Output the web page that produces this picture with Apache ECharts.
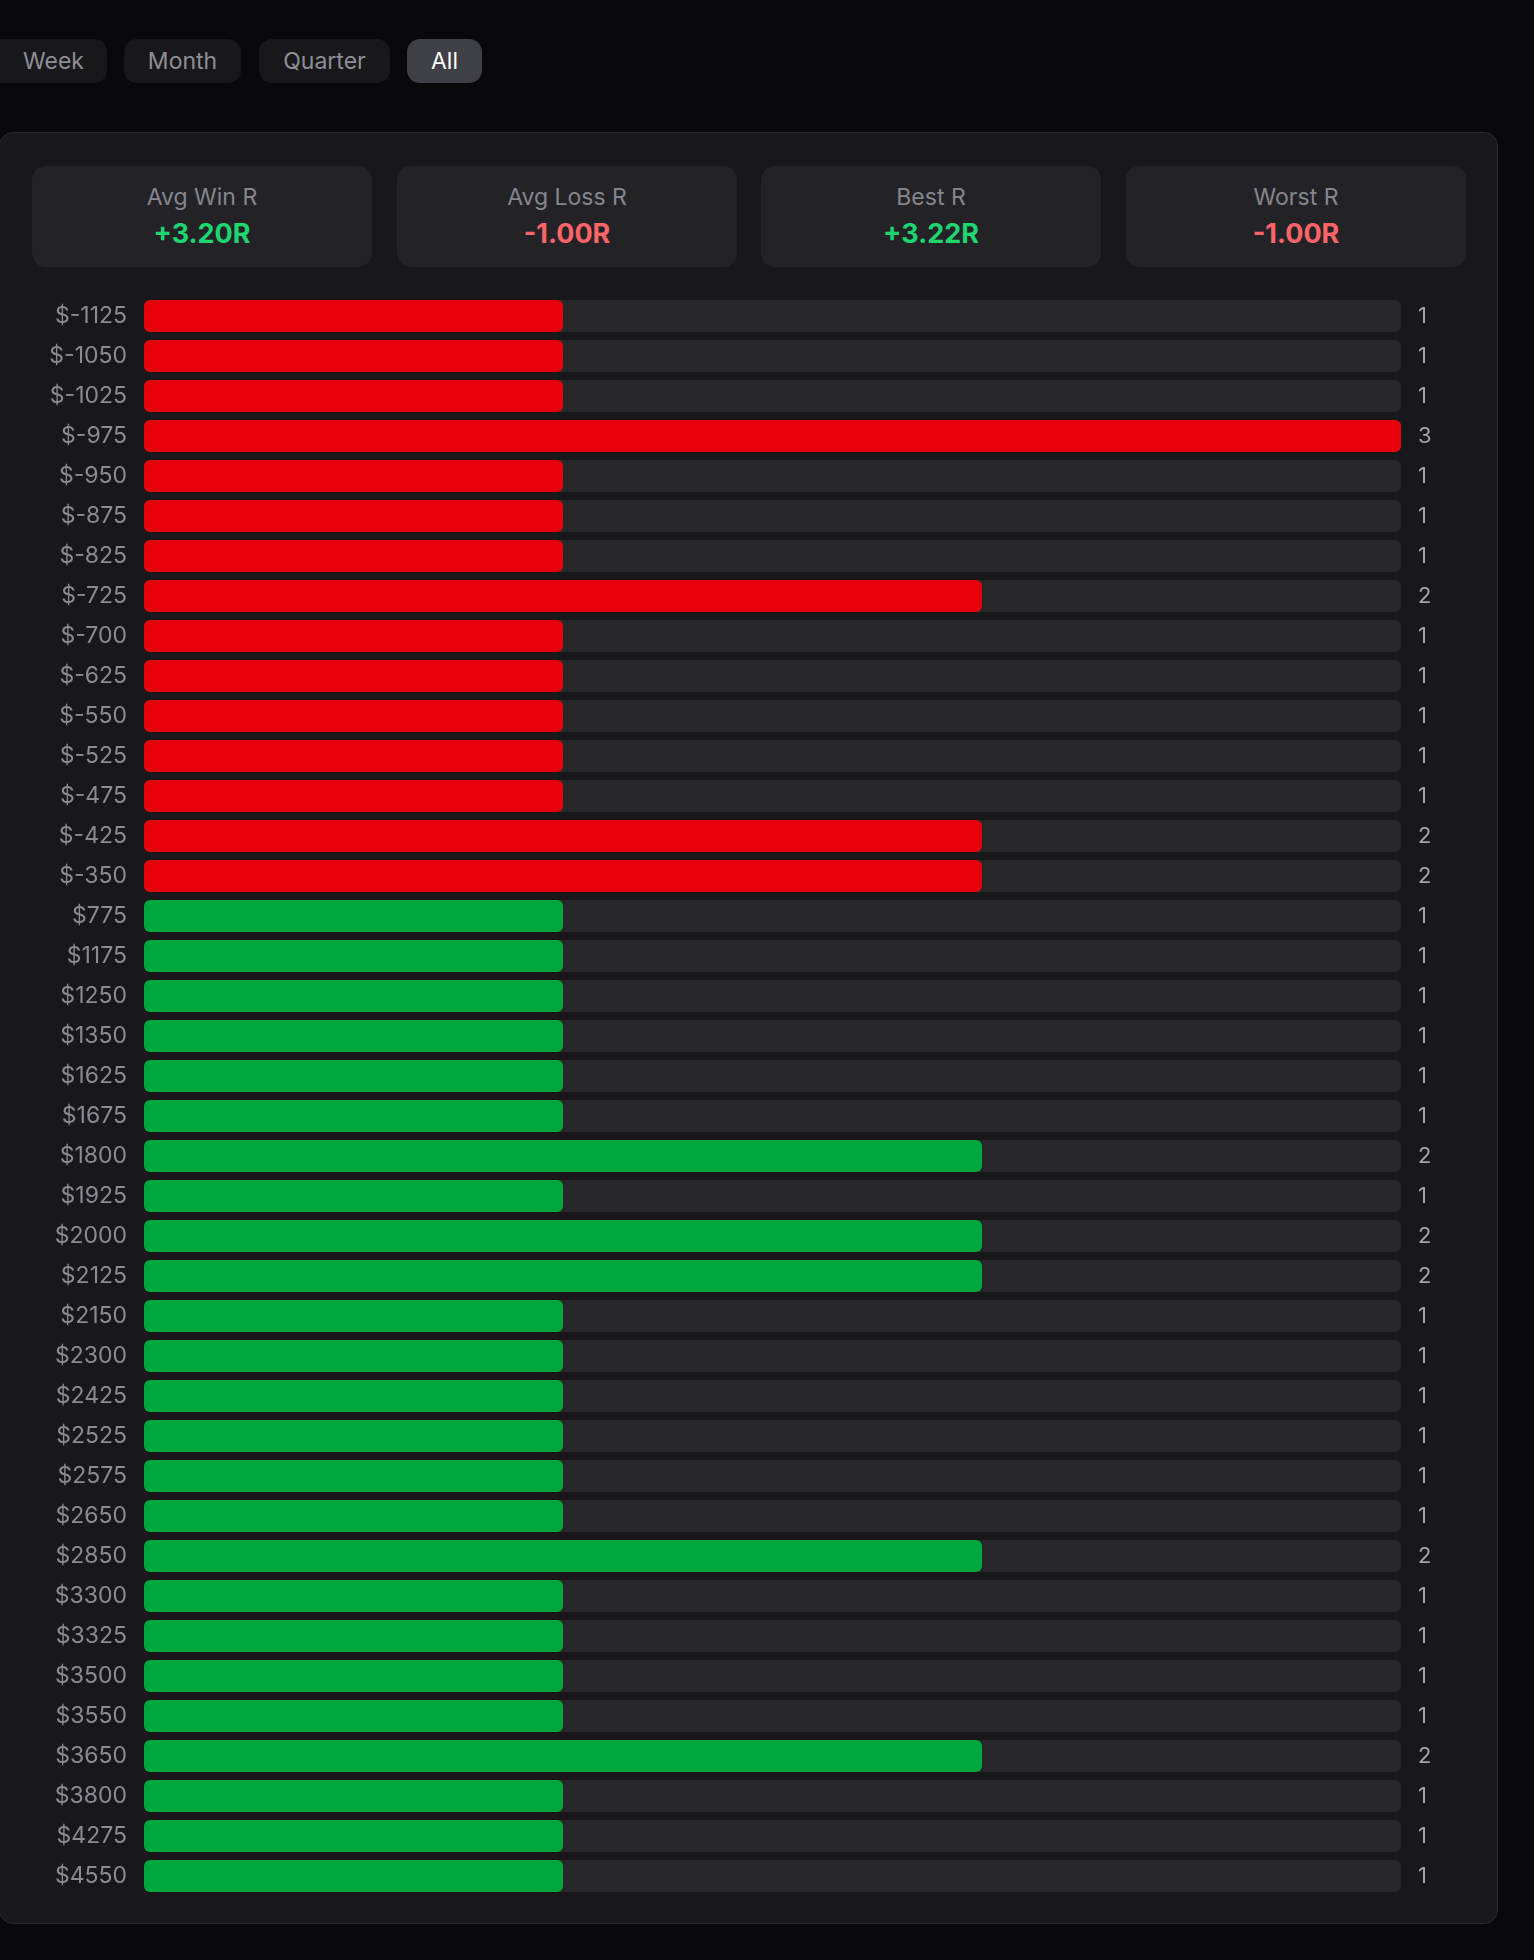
<!DOCTYPE html>
<html>
<head>
<meta charset="utf-8">
<script src="https://cdn.jsdelivr.net/npm/echarts@6/dist/echarts.min.js"></script>
<style>
  html, body { margin: 0; padding: 0; background: #09090b; }
  body { width: 1534px; height: 1960px; position: relative; overflow: hidden; font-family: Inter, "Noto Sans", sans-serif; }
  .btn { position: absolute; top: 39px; height: 44px; line-height: 44px; border-radius: 13px; background: #18181b;
         color: #8e8e96; font-size: 23px; text-align: center; }
  .btn.active { background: #3f3f46; color: #fafafa; }
  #panel { position: absolute; left: -1px; top: 132px; width: 1499px; height: 1792px; box-sizing: border-box;
           border: 1.5px solid #2a2a2f; border-radius: 14px; background: #18181b; }
  .card { position: absolute; top: 166px; height: 101px; width: 340px; border-radius: 14px; background: #232327; text-align: center; }
  .card .lbl { position: absolute; left: 0; right: 0; top: 17px; color: #85858d; font-size: 23px; }
  .card .val { position: absolute; left: 0; right: 0; top: 51px; font-size: 27px; font-weight: 700; }
  #chart { position: absolute; left: 0; top: 0; width: 1534px; height: 1960px; }
</style>
</head>
<body>
<div id="buttons"></div>
<div id="panel"></div>
<div id="cards"></div>
<div id="chart"></div>
<script>
// period tabs
var periods = ['Week', 'Month', 'Quarter', 'All'];
var activePeriod = 'All';

// summary cards
var statLabels = ['Avg Win R', 'Avg Loss R', 'Best R', 'Worst R'];
var statValues = ['+3.20R', '-1.00R', '+3.22R', '-1.00R'];

// P&L buckets and trade counts
var buckets = ['$-1125', '$-1050', '$-1025', '$-975', '$-950', '$-875', '$-825', '$-725', '$-700', '$-625',
    '$-550', '$-525', '$-475', '$-425', '$-350', '$775', '$1175', '$1250', '$1350', '$1625',
    '$1675', '$1800', '$1925', '$2000', '$2125', '$2150', '$2300', '$2425', '$2525', '$2575',
    '$2650', '$2850', '$3300', '$3325', '$3500', '$3550', '$3650', '$3800', '$4275', '$4550'];
var counts = [1, 1, 1, 3, 1, 1, 1, 2, 1, 1,
    1, 1, 1, 2, 2, 1, 1, 1, 1, 1,
    1, 2, 1, 2, 2, 1, 1, 1, 1, 1,
    1, 2, 1, 1, 1, 1, 2, 1, 1, 1];

var RED = '#e7000b';
var GREEN = '#00a63e';

// tabs
var btnPos = [[-12, 119], [124, 117], [259, 131], [407, 75]];
var btnHtml = '';
periods.forEach(function (p, i) {
    btnHtml += '<div class="btn' + (p === activePeriod ? ' active' : '') + '" style="left:' + btnPos[i][0] +
        'px;width:' + btnPos[i][1] + 'px;' + (i === 0 ? 'text-indent:12px;' : '') + '">' + p + '</div>';
});
document.getElementById('buttons').innerHTML = btnHtml;

// cards
var cardLeft = [32, 397, 761, 1126];
var cardHtml = '';
statLabels.forEach(function (l, i) {
    var c = statValues[i].charAt(0) === '-' ? '#ff6467' : '#1fd56f';
    cardHtml += '<div class="card" style="left:' + cardLeft[i] + 'px"><div class="lbl">' + l +
        '</div><div class="val" style="color:' + c + '">' + statValues[i] + '</div></div>';
});
document.getElementById('cards').innerHTML = cardHtml;

var chart = echarts.init(document.getElementById('chart'), null, { renderer: 'canvas' });

var barData = counts.map(function (v, i) {
    return {
        value: v,
        itemStyle: { color: buckets[i].indexOf('-') >= 0 ? RED : GREEN }
    };
});

var option = {
    backgroundColor: 'transparent',
    animation: false,
    grid: {
        left: 144,
        right: 1534 - 1401,
        top: 296,
        height: 1600
    },
    xAxis: {
        type: 'value',
        min: 0,
        max: Math.max.apply(null, counts),
        show: false
    },
    yAxis: [{
        type: 'category',
        data: buckets,
        inverse: true,
        axisLine: { show: false },
        axisTick: { show: false },
        axisLabel: {
            color: '#8a8a92',
            fontSize: 23,
            fontFamily: 'Inter',
            margin: 17
        }
    }, {
        type: 'category',
        data: counts.map(String),
        inverse: true,
        position: 'right',
        axisLine: { show: false },
        axisTick: { show: false },
        axisLabel: {
            color: '#a1a1aa',
            fontSize: 22,
            fontFamily: 'Inter',
            margin: 17,
            align: 'left'
        }
    }],
    series: [{
        type: 'bar',
        data: barData,
        barWidth: 32,
        yAxisIndex: 0,
        showBackground: true,
        backgroundStyle: {
            color: '#27272a',
            borderRadius: 6
        },
        itemStyle: { borderRadius: 6 }
    }]
};

chart.setOption(option);
</script>
</body>
</html>
